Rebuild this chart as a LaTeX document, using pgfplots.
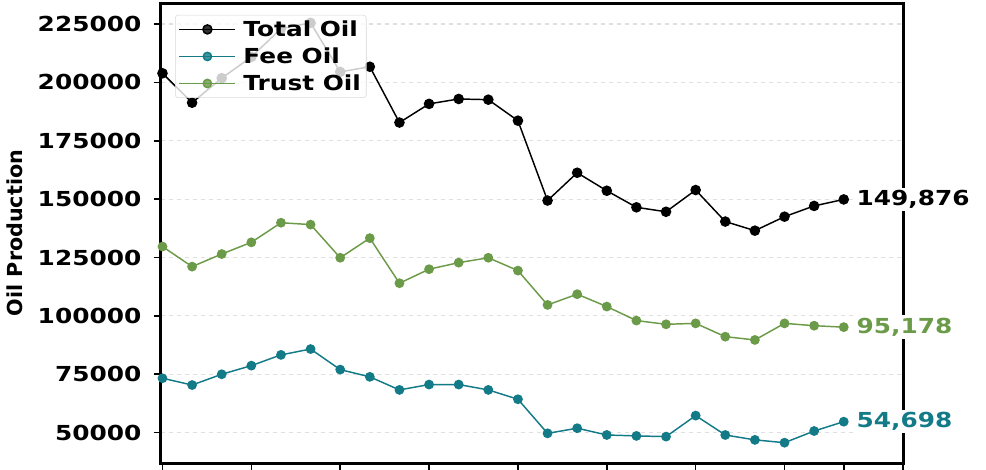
\documentclass[border=0pt]{standalone}
\usepackage{fontspec}
\setmainfont{DejaVu Sans}[FakeStretch=1.2]
\newfontfamily\ylfont{DejaVu Sans}
\usepackage{pgfplots}
\pgfplotsset{compat=1.18}
\usepackage{pgfplotstable}
\definecolor{feec}{HTML}{137A87}
\definecolor{trustc}{HTML}{6B9A48}

\pgfplotstableread{
x total fee trust
0 203900 73300 129700
1 191300 70400 121100
2 201800 75000 126500
3 210900 78700 131500
4 223000 83300 139900
5 225500 85800 139100
6 204500 77000 124900
7 206700 73900 133300
8 182800 68300 114000
9 190800 70600 120000
10 192900 70600 122800
11 192600 68300 124900
12 183600 64300 119400
13 149400 49700 104700
14 161300 51900 109300
15 153600 49000 104000
16 146500 48600 98000
17 144600 48300 96400
18 153900 57300 96800
19 140400 49000 91100
20 136500 46900 89700
21 142500 45700 96800
22 147100 50700 95800
23 149876 54698 95178
}\datatable

\begin{document}
\begin{tikzpicture}
\path[use as bounding box] (-120.75pt,-4.5pt) rectangle (618.75pt,347.25pt);
\begin{axis}[
  at={(0,0)}, anchor=south west,
  width=556.5pt, height=345pt, scale only axis,
  xmin=-0.05, xmax=25, ymin=37000, ymax=234000,
  xtick={0,3,6,9,12,15,18,21,23,25}, xticklabels={},
  ytick={50000,75000,100000,125000,150000,175000,200000,225000},
  yticklabels={50000,75000,100000,125000,150000,175000,200000,225000},
  scaled y ticks=false,
  tick label style={font=\fontsize{15.5}{18}\selectfont\bfseries},
  yticklabel style={xshift=-6pt},
  tick align=outside, major tick length=5.25pt,
  tick style={black, line width=1.2pt},
  xtick pos=bottom, ytick pos=left,
  axis line style={line width=2.25pt},
  ymajorgrids, grid style={dashed, black!12, line width=0.8pt},
  ylabel={\ylfont\bfseries Oil Production},
  ylabel style={at={(axis description cs:-0.197,0.5)}, anchor=center, font=\fontsize{15.5}{18}\selectfont},
  clip mode=individual,
  legend cell align=left,
  legend style={at={(axis description cs:0.019,0.974)}, anchor=north west,
    draw=black!15, rounded corners=2pt, fill=white, fill opacity=0.8, text opacity=1, draw opacity=1,
    font=\fontsize{15.5}{18}\selectfont\bfseries, row sep=4pt, inner sep=2.5pt,
    nodes={inner sep=1.5pt}},
  legend image code/.code={\draw[mark repeat=2,mark phase=2,#1] plot coordinates {(0pt,0pt) (21pt,0pt) (42pt,0pt)};},
]
\addplot[black, line width=1.1pt, mark=*, mark size=3.4pt] table[x=x,y=total] {\datatable};
\addlegendentry{\hspace{4pt}Total Oil}
\addplot[feec, line width=1.1pt, mark=*, mark size=3.1pt] table[x=x,y=fee] {\datatable};
\addlegendentry{\hspace{4pt}Fee Oil}
\addplot[trustc, line width=1.1pt, mark=*, mark size=3.1pt] table[x=x,y=trust] {\datatable};
\addlegendentry{\hspace{4pt}Trust Oil}
\node[anchor=west, fill=white, inner sep=2pt, xshift=7.5pt, text=black, font=\fontsize{15.5}{18}\selectfont\bfseries] at (axis cs:23,149876) {149,876};
\node[anchor=west, fill=white, inner sep=2pt, xshift=7.5pt, text=trustc, font=\fontsize{15.5}{18}\selectfont\bfseries] at (axis cs:23,95178) {95,178};
\node[anchor=west, fill=white, inner sep=2pt, xshift=7.5pt, text=feec, font=\fontsize{15.5}{18}\selectfont\bfseries] at (axis cs:23,54698) {54,698};
\end{axis}
\end{tikzpicture}
\end{document}
